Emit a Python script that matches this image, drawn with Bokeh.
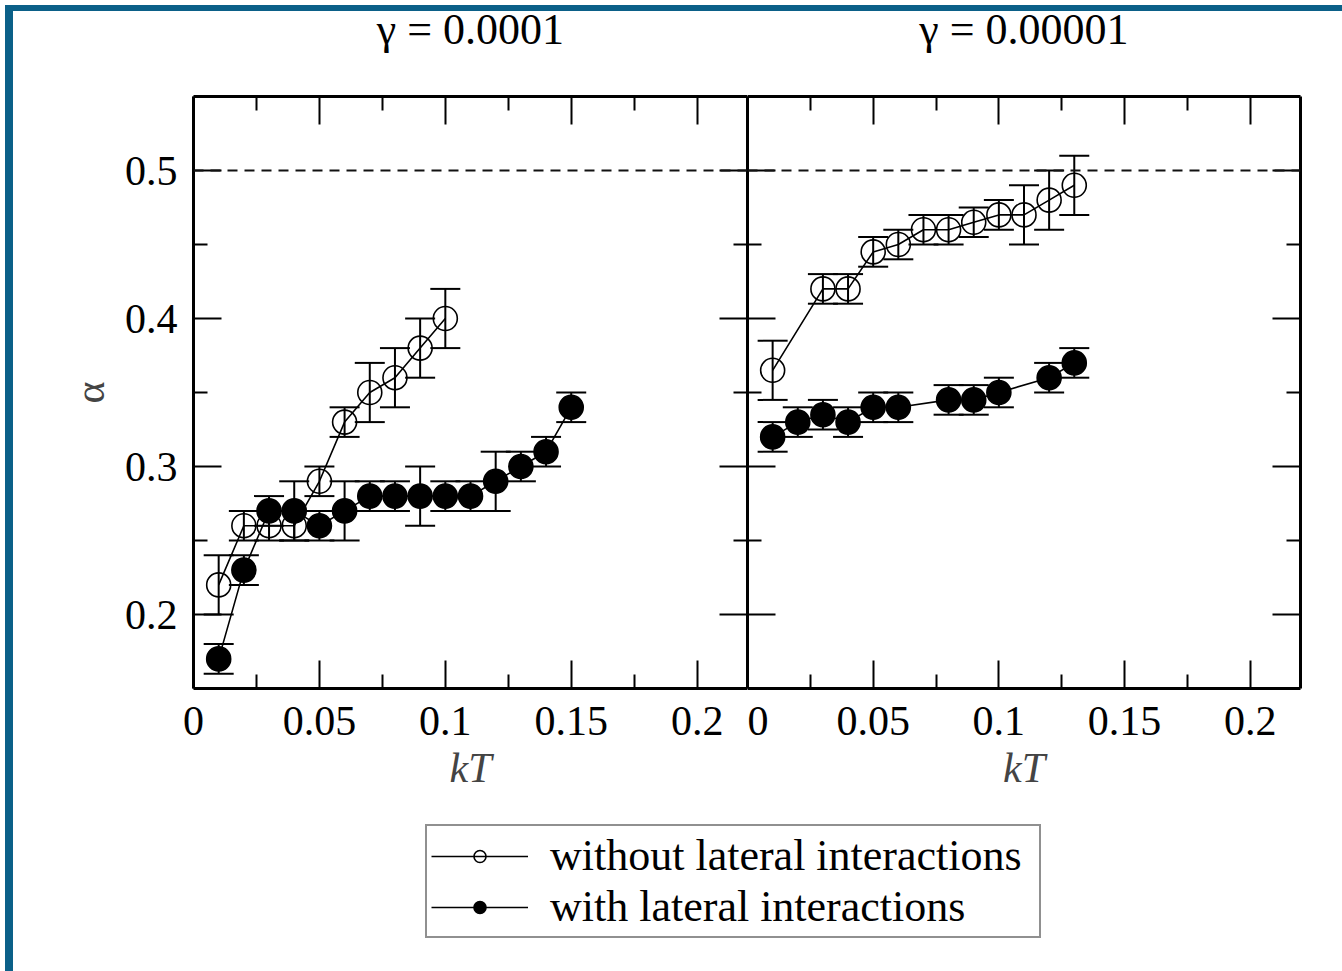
from bokeh.plotting import figure
from bokeh.layouts import row, column
from bokeh.models import (LinearAxis, Range1d, FixedTicker, Whisker, TeeHead,
                          ColumnDataSource, Span, Legend, LegendItem, Div)
from bokeh.embed import file_html
from bokeh.resources import INLINE

FONT = "Liberation Serif"
NAN = float("nan")

# ---------------- data ----------------
titles = ["\u03b3 = 0.0001", "\u03b3 = 0.00001"]
x_label = "kT"
y_label = "\u03b1"
series_names = ["without lateral interactions", "with lateral interactions"]

x_ticks = [0.0, 0.05, 0.1, 0.15, 0.2]
x_tick_labels = ["0", "0.05", "0.1", "0.15", "0.2"]
x_minor = [0.025, 0.075, 0.125, 0.175]
y_ticks = [0.2, 0.3, 0.4, 0.5]
y_tick_labels = ["0.2", "0.3", "0.4", "0.5"]
y_minor = [0.25, 0.35, 0.45]
reference_level = 0.5

# gamma = 0.0001
kT_open_a = [0.01, 0.02, 0.03, 0.04, 0.05, 0.06, 0.07, 0.08, 0.09, 0.10]
alpha_open_a = [0.22, 0.26, 0.26, 0.26, 0.29, 0.33, 0.35, 0.36, 0.38, 0.40]
err_open_a = [0.02, 0.01, 0.01, 0.01, 0.01, 0.01, 0.02, 0.02, 0.02, 0.02]

kT_fill_a = [0.01, 0.02, 0.03, 0.04, 0.05, 0.06, 0.07, 0.08, 0.09, 0.10,
             0.11, 0.12, 0.13, 0.14, 0.15]
alpha_fill_a = [0.17, 0.23, 0.27, 0.27, 0.26, 0.27, 0.28, 0.28, 0.28, 0.28,
                0.28, 0.29, 0.30, 0.31, 0.34]
err_fill_a = [0.01, 0.01, 0.01, 0.02, 0.01, 0.02, 0.01, 0.01, 0.02, 0.01,
              0.01, 0.02, 0.01, 0.01, 0.01]

# gamma = 0.00001
kT_open_b = [0.01, 0.03, 0.04, 0.05, 0.06, 0.07, 0.08, 0.09, 0.10, 0.11, 0.12, 0.13]
alpha_open_b = [0.365, 0.42, 0.42, 0.445, 0.45, 0.46, 0.46, 0.465, 0.47, 0.47, 0.48, 0.49]
err_open_b = [0.02, 0.01, 0.01, 0.01, 0.01, 0.01, 0.01, 0.01, 0.01, 0.02, 0.02, 0.02]

kT_fill_b = [0.01, 0.02, 0.03, 0.04, 0.05, 0.06, 0.08, 0.09, 0.10, 0.12, 0.13]
alpha_fill_b = [0.32, 0.33, 0.335, 0.33, 0.34, 0.34, 0.345, 0.345, 0.35, 0.36, 0.37]
err_fill_b = [0.01, 0.01, 0.01, 0.01, 0.01, 0.01, 0.01, 0.01, 0.01, 0.01, 0.01]

X_RANGE = (0.0, 0.22)
Y_RANGE = (0.15, 0.55)


def make_axis_style(ax, ticks, minor, tick_labels, labels, standoff=10):
    ax.ticker = FixedTicker(ticks=ticks, minor_ticks=minor)
    ax.major_label_overrides = dict(zip(ticks, tick_labels))
    ax.axis_line_width = 3
    ax.axis_line_color = "black"
    ax.major_tick_in = 28
    ax.major_tick_out = 0
    ax.minor_tick_in = 14
    ax.minor_tick_out = 0
    ax.major_tick_line_width = 2
    ax.minor_tick_line_width = 2
    ax.major_tick_line_color = "black"
    ax.minor_tick_line_color = "black"
    ax.major_label_text_font = FONT
    ax.major_label_text_color = "black"
    if labels:
        ax.major_label_text_font_size = "42px"
        ax.major_label_standoff = standoff
    else:
        ax.major_label_text_font_size = "0px"
        ax.major_label_standoff = standoff
        ax.major_label_text_alpha = 0


def draw_series(p, xs, ys, errs, filled):
    up = [y + e for y, e in zip(ys, errs)]
    lo = [y - e for y, e in zip(ys, errs)]
    src = ColumnDataSource(dict(x=xs, y=ys, upper=up, lower=lo))
    p.line("x", "y", source=src, line_color="black", line_width=1.6)
    w = Whisker(base="x", upper="upper", lower="lower", source=src, dimension="height",
                line_color="black", line_width=2,
                upper_head=TeeHead(size=30, line_width=2, line_color="black"),
                lower_head=TeeHead(size=30, line_width=2, line_color="black"))
    p.add_layout(w)
    p.scatter("x", "y", source=src, marker="circle", size=24,
              fill_color="black" if filled else None, line_color="black", line_width=1.6)


def make_panel(title, open_data, fill_data, left):
    p = figure(frame_width=554 if left else 553, frame_height=592,
               x_range=Range1d(*X_RANGE), y_range=Range1d(*Y_RANGE),
               output_backend="svg", toolbar_location=None,
               min_border_left=193 if left else 0, min_border_right=0 if left else 34,
               min_border_top=96, min_border_bottom=130,
               title=None)
    p.grid.visible = False
    p.outline_line_color = None
    p.background_fill_color = "white"
    p.border_fill_color = "white"

    make_axis_style(p.xaxis[0], x_ticks, x_minor, x_tick_labels, True, standoff=18)
    make_axis_style(p.yaxis[0], y_ticks, y_minor, y_tick_labels, left, standoff=16 if left else 0)
    p.xaxis.axis_label = x_label
    p.xaxis.axis_label_text_font = FONT
    p.xaxis.axis_label_text_font_size = "42px"
    p.xaxis.axis_label_text_font_style = "italic"
    p.xaxis.axis_label_standoff = 7
    if left:
        p.yaxis.axis_label = y_label
        p.yaxis.axis_label_text_font = FONT
        p.yaxis.axis_label_text_font_size = "42px"
        p.yaxis.axis_label_text_font_style = "normal"
        p.yaxis.axis_label_standoff = 9

    # mirrored top axis (ticks only) carrying the panel heading as its label
    top = LinearAxis()
    make_axis_style(top, x_ticks, x_minor, x_tick_labels, False, standoff=0)
    top.axis_label = title
    top.axis_label_text_font = FONT
    top.axis_label_text_font_size = "44px"
    top.axis_label_text_font_style = "normal"
    top.axis_label_text_color = "black"
    top.axis_label_standoff = 43
    p.add_layout(top, "above")

    right = LinearAxis()
    make_axis_style(right, y_ticks, y_minor, y_tick_labels, False, standoff=0)
    p.add_layout(right, "right")

    p.add_layout(Span(location=reference_level, dimension="width", line_color="#111111",
                      line_width=1.8, line_dash="10 7"))
    draw_series(p, *open_data, filled=False)
    draw_series(p, *fill_data, filled=True)
    return p


p1 = make_panel(titles[0], (kT_open_a, alpha_open_a, err_open_a),
                (kT_fill_a, alpha_fill_a, err_fill_a), True)
p2 = make_panel(titles[1], (kT_open_b, alpha_open_b, err_open_b),
                (kT_fill_b, alpha_fill_b, err_fill_b), False)

# legend panel (legend proxies hold a single NaN point, so nothing is drawn)
p3 = figure(width=1334, height=140, min_border=0, toolbar_location=None,
            output_backend="svg", x_axis_location=None, y_axis_location=None,
            x_range=Range1d(0, 1), y_range=Range1d(0, 1))
p3.grid.visible = False
p3.outline_line_color = None
r1l = p3.line(x=[NAN], y=[NAN], line_color="black", line_width=1.6)
r1m = p3.scatter(x=[NAN], y=[NAN], marker="circle", size=18, fill_color=None,
                 line_color="black", line_width=1.6)
r2l = p3.line(x=[NAN], y=[NAN], line_color="black", line_width=1.6)
r2m = p3.scatter(x=[NAN], y=[NAN], marker="circle", size=20, fill_color="black",
                 line_color="black", line_width=1.6)
leg = Legend(items=[LegendItem(label=series_names[0], renderers=[r1l, r1m]),
                    LegendItem(label=series_names[1], renderers=[r2l, r2m])],
             location=(425, 20))
leg.label_text_font = FONT
leg.label_text_font_size = "44px"
leg.label_text_color = "black"
leg.border_line_color = "#222222"
leg.border_line_width = 2
leg.padding = 4
leg.margin = 0
leg.spacing = 0
leg.glyph_width = 97
leg.glyph_height = 30
leg.label_standoff = 22
leg.label_width = 485
leg.background_fill_alpha = 1
p3.add_layout(leg)

edge_left = Div(text="", width=8, height=971,
                styles={"position": "fixed", "left": "0px", "top": "0px",
                        "background-color": "#0b6088", "z-index": "10"})
edge_top = Div(text="", width=1342, height=6,
               styles={"position": "fixed", "left": "0px", "top": "0px",
                       "background-color": "#0b6088", "z-index": "10"})

layout = column(row(p1, p2), p3, edge_left, edge_top)

open("out.html", "w").write(file_html(layout, INLINE))
